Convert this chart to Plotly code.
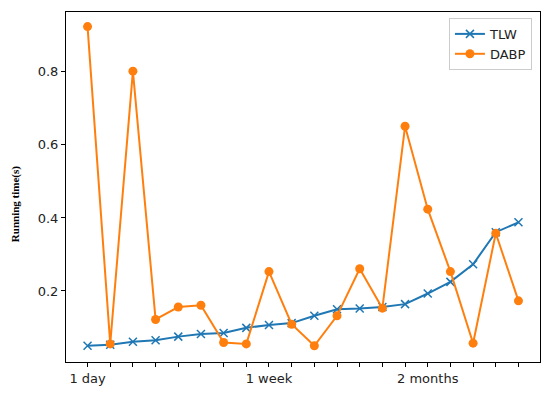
import plotly.graph_objects as go

x_idx = list(range(20))
tick_labels = ["1 day", "", "", "", "", "", "", "", "1 week", "", "", "", "", "", "", "2 months", "", "", "", ""]
tlw = [0.050, 0.053, 0.061, 0.065, 0.075, 0.082, 0.085, 0.099, 0.107, 0.112,
       0.132, 0.150, 0.152, 0.156, 0.164, 0.193, 0.225, 0.273, 0.361, 0.388]
dabp = [0.924, 0.055, 0.802, 0.122, 0.156, 0.161, 0.059, 0.055, 0.253, 0.109,
        0.050, 0.132, 0.261, 0.153, 0.651, 0.424, 0.253, 0.057, 0.358, 0.173]

fig = go.Figure()
fig.add_trace(go.Scatter(
    x=x_idx, y=tlw, mode="lines+markers", name="TLW",
    line=dict(color="#1f77b4", width=2),
    marker=dict(symbol="x-thin", size=8, line=dict(color="#1f77b4", width=1.5)),
))
fig.add_trace(go.Scatter(
    x=x_idx, y=dabp, mode="lines+markers", name="DABP",
    line=dict(color="#ff7f0e", width=2),
    marker=dict(symbol="circle", size=9, color="#ff7f0e"),
))

axis_common = dict(
    showline=True, linecolor="black", linewidth=1, mirror=True,
    showgrid=False, zeroline=False,
    ticks="outside", ticklen=4, tickwidth=1, tickcolor="black",
    tickfont=dict(family="DejaVu Sans", size=13, color="#222"),
)
fig.update_xaxes(range=[-0.95, 19.95], tickmode="array", tickvals=x_idx,
                 ticktext=tick_labels, **axis_common)
fig.update_yaxes(range=[0.0055, 0.964], tickmode="array",
                 tickvals=[0.2, 0.4, 0.6, 0.8], ticktext=["0.2", "0.4", "0.6", "0.8"],
                 **axis_common)

fig.add_annotation(
    text="<b>Running time(s)</b>", xref="paper", yref="paper",
    x=-0.1076, y=0.451, xanchor="center", yanchor="middle", textangle=-90,
    showarrow=False, font=dict(family="Liberation Serif", size=11, color="black"),
)

fig.update_layout(
    width=534, height=379,
    margin=dict(l=58, r=2, t=4, b=25),
    plot_bgcolor="white", paper_bgcolor="white",
    legend=dict(x=0.983, y=0.983, xanchor="right", yanchor="top",
                bordercolor="#cccccc", borderwidth=1, bgcolor="rgba(255,255,255,0.8)",
                tracegroupgap=0, itemwidth=30,
                font=dict(family="DejaVu Sans", size=13, color="#222")),
)

fig.write_html("out.html")
